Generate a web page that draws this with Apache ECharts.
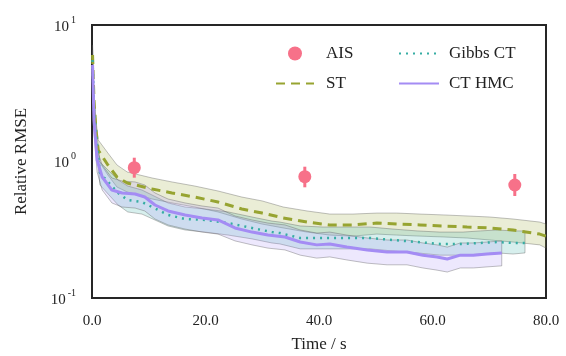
<!DOCTYPE html>
<html><head><meta charset="utf-8">
<script src="https://cdn.jsdelivr.net/npm/echarts@6/dist/echarts.min.js"></script>
<style>html,body{margin:0;padding:0;background:#fff}#c{width:566px;height:356px}</style>
</head><body><div id="c"></div>
<script>
const FONT = 'Liberation Serif';
const xTicks = [0, 20, 40, 60, 80];
const yTicks = [0.1, 1, 10];

const aisT = [7.45, 37.5, 74.5];
const aisMean = [0.901, 0.774, 0.673];
const aisLow = [0.761, 0.647, 0.559];
const aisHigh = [1.066, 0.916, 0.810];

const stT = [0.1,0.35,0.7,1.1,2.8,4.4,6.2,10.6,14.1,18.1,22.2,26.4,30.0,33.7,37.9,41.9,46.0,50.2,53.7,57.8,61.9,66.1,70.1,74.2,78.9,80];
const stMean = [6.03,2.82,1.70,1.21,0.943,0.770,0.696,0.629,0.588,0.549,0.505,0.449,0.419,0.386,0.360,0.343,0.343,0.354,0.348,0.343,0.337,0.331,0.326,0.315,0.294,0.284];
const stUp = [7.13,3.23,2.01,1.437,1.154,0.943,0.838,0.757,0.708,0.661,0.608,0.549,0.514,0.464,0.434,0.412,0.412,0.419,0.419,0.412,0.406,0.399,0.392,0.379,0.360,0.348];
const stLo = [5.09,2.47,1.437,1.026,0.796,0.650,0.598,0.531,0.497,0.464,0.427,0.379,0.348,0.326,0.304,0.289,0.284,0.294,0.289,0.284,0.280,0.275,0.266,0.257,0.245,0.232];

const gibT = [0.1,0.35,0.9,1.4,4.6,6.3,8.8,13.4,16.4,19.9,24.0,28.2,31.7,33.1,36.7,40.7,44.9,49.0,53.0,57.3,61.3,65.4,68.4,71.4,74.2,76.3];
const gibMean = [5.54,2.38,1.32,0.824,0.588,0.522,0.505,0.406,0.379,0.373,0.354,0.326,0.304,0.299,0.275,0.275,0.275,0.275,0.266,0.257,0.249,0.249,0.253,0.257,0.253,0.253];
const gibUp = [6.56,2.82,1.564,0.992,0.732,0.661,0.618,0.497,0.464,0.449,0.427,0.392,0.366,0.360,0.337,0.331,0.331,0.331,0.320,0.310,0.304,0.304,0.310,0.315,0.310,0.310];
const gibLo = [4.68,2.01,1.116,0.673,0.480,0.427,0.412,0.337,0.315,0.304,0.289,0.271,0.253,0.249,0.229,0.229,0.229,0.229,0.221,0.214,0.206,0.206,0.210,0.214,0.210,0.214];

const hmcT = [0.1,0.35,0.9,1.8,3.5,5.3,7.6,9.3,11.1,13.4,16.4,19.4,22.2,25.2,28.2,31.0,34.0,36.7,39.6,41.9,44.9,48.5,52.0,55.5,58.3,60.8,62.6,64.9,67.2,69.6,72.2];
const hmcMean = [5.09,2.01,1.026,0.770,0.618,0.588,0.578,0.549,0.480,0.434,0.406,0.386,0.373,0.326,0.304,0.289,0.280,0.257,0.245,0.249,0.236,0.225,0.217,0.217,0.206,0.200,0.193,0.206,0.206,0.210,0.214];
const hmcUp = [6.03,2.38,1.214,0.943,0.757,0.720,0.708,0.673,0.588,0.531,0.497,0.472,0.456,0.399,0.373,0.354,0.343,0.315,0.299,0.304,0.289,0.275,0.266,0.266,0.253,0.245,0.236,0.253,0.253,0.257,0.262];
const hmcLo = [4.30,1.645,0.838,0.618,0.497,0.464,0.456,0.434,0.379,0.343,0.320,0.304,0.294,0.262,0.245,0.232,0.225,0.206,0.196,0.200,0.190,0.180,0.175,0.175,0.166,0.160,0.155,0.166,0.166,0.169,0.172];

const C_AIS = '#f77189', C_ST = '#97a431', C_GIB = '#36ada4', C_HMC = '#a48cf4';

function hexA(h, a) {
  const r = parseInt(h.slice(1,3),16), g = parseInt(h.slice(3,5),16), b = parseInt(h.slice(5,7),16);
  return `rgba(${r},${g},${b},${a})`;
}
function band(t, up, lo, color) {
  return {
    type: 'custom', z: 1, silent: true,
    data: t.map((x, i) => [x, up[i], lo[i]]),
    encode: { x: 0, y: [1, 2] },
    renderItem: (params, api) => {
      if (params.dataIndex !== 0) return;
      const pts = [];
      for (let i = 0; i < t.length; i++) pts.push(api.coord([t[i], up[i]]));
      for (let i = t.length - 1; i >= 0; i--) pts.push(api.coord([t[i], lo[i]]));
      return { type: 'polygon', shape: { points: pts },
        style: { fill: hexA(color, 0.2), stroke: 'rgba(80,80,80,0.4)', lineWidth: 0.9 } };
    }
  };
}
function line(name, t, v, color, type, width) {
  return { name, type: 'line', z: 3, symbol: 'none', showSymbol: false,
    data: t.map((x, i) => [x, v[i]]),
    lineStyle: { color, width, type, cap: 'butt' }, itemStyle: { color } };
}
const noSym = { opacity: 0 };
const legText = { fontFamily: FONT, fontSize: 17, color: '#222' };

const chart = echarts.init(document.getElementById('c'));
chart.setOption({
  animation: false,
  grid: { left: 92, right: 20, top: 25, bottom: 58, show: true, borderColor: '#262626', borderWidth: 2,
    backgroundColor: 'transparent', outerBoundsMode: 'none', containLabel: false },
  legend: [
    { left: 270, top: 40, orient: 'vertical', itemWidth: 38, itemHeight: 14, itemGap: 13,
      data: [{ name: 'AIS' }, { name: 'ST', itemStyle: noSym }],
      textStyle: Object.assign({ padding: [0, 0, 0, 7] }, legText) },
    { left: 393, top: 40, orient: 'vertical', itemWidth: 40, itemHeight: 14, itemGap: 13,
      data: [{ name: 'Gibbs CT', itemStyle: noSym }, { name: 'CT HMC', itemStyle: noSym }],
      textStyle: Object.assign({ padding: [0, 0, 0, 5] }, legText) }
  ],
  xAxis: {
    type: 'value', min: xTicks[0], max: xTicks[xTicks.length - 1], interval: 20,
    name: 'Time / s', nameLocation: 'middle', nameGap: 38,
    nameTextStyle: { fontFamily: FONT, fontSize: 17, color: '#222' },
    axisLine: { show: false }, axisTick: { show: false }, splitLine: { show: false },
    axisLabel: { margin: 16, fontFamily: FONT, fontSize: 15, color: '#222', formatter: v => v.toFixed(1) }
  },
  yAxis: {
    type: 'log', logBase: 10, min: yTicks[0], max: yTicks[yTicks.length - 1],
    name: 'Relative RMSE', nameLocation: 'middle', nameGap: 62,
    nameTextStyle: { fontFamily: FONT, fontSize: 17, color: '#222' },
    axisLine: { show: false }, axisTick: { show: false }, splitLine: { show: false }, minorTick: { show: false },
    axisLabel: {
      margin: 16,
      formatter: v => '{b|10}{s|' + Math.round(Math.log10(v)) + '}',
      rich: {
        b: { fontFamily: FONT, fontSize: 15, color: '#222', padding: [4, 0, 0, 0] },
        s: { fontFamily: FONT, fontSize: 10, color: '#222', padding: [0, 0, 10, 2] }
      }
    }
  },
  series: [
    band(stT, stUp, stLo, C_ST),
    band(gibT, gibUp, gibLo, C_GIB),
    band(hmcT, hmcUp, hmcLo, C_HMC),
    line('ST', stT, stMean, C_ST, [9, 6], 3),
    line('Gibbs CT', gibT, gibMean, C_GIB, [2, 5], 2.5),
    line('CT HMC', hmcT, hmcMean, C_HMC, 'solid', 3),
    { type: 'custom', z: 4, silent: true,
      data: aisT.map((x, i) => [x, aisLow[i], aisHigh[i]]),
      encode: { x: 0, y: [1, 2] },
      renderItem: (params, api) => {
        const a = api.coord([api.value(0), api.value(1)]);
        const b = api.coord([api.value(0), api.value(2)]);
        return { type: 'line', shape: { x1: a[0], y1: a[1], x2: b[0], y2: b[1] },
          style: { stroke: C_AIS, lineWidth: 3 } };
      } },
    { name: 'AIS', type: 'scatter', z: 5, symbol: 'circle', symbolSize: 13,
      data: aisT.map((x, i) => [x, aisMean[i]]), itemStyle: { color: C_AIS, opacity: 1 } }
  ]
});
</script></body></html>
